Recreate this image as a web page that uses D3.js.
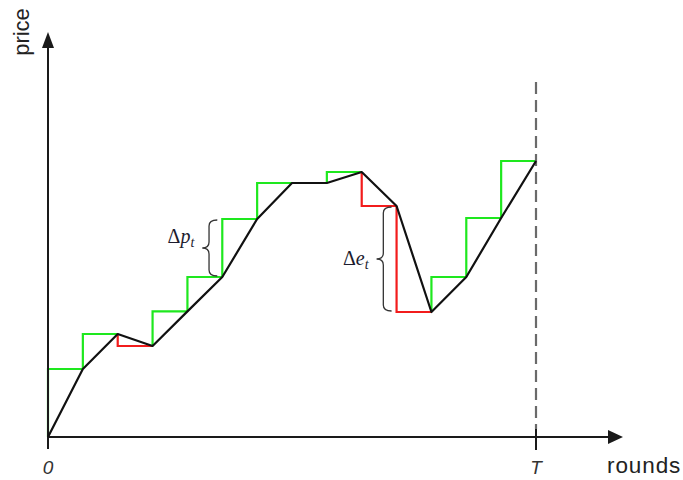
<!DOCTYPE html>
<html>
<head>
<meta charset="utf-8">
<script src="https://cdn.jsdelivr.net/npm/d3@7"></script>
<style>
  html, body { margin: 0; padding: 0; background: #fff; }
  svg { display: block; }
</style>
</head>
<body>
<svg id="chart" width="683" height="480"></svg>
<script>
// Price path over rounds 0..T
const rounds = [0, 1, 2, 3, 4, 5, 6, 7, 8, 9, 10, 11, 12, 13, 14];
const prices = [0, 17, 25.75, 22.75, 31.4, 40, 54.5, 63.5, 63.5, 66.25, 57.75, 31.25, 40, 54.75, 69];
const xTickLabels = ["0", "T"];
const xTickRounds = [0, 14];
// Annotated steps: round at which the step starts, and its label
const braceRounds = [5, 10];
const braceLabels = [["\u0394", "p", "t"], ["\u0394", "e", "t"]];

const svg = d3.select("#chart");
const x = d3.scaleLinear().domain([0, 14]).range([48, 536]);
const y = d3.scaleLinear().domain([0, 100]).range([437, 37]);

const green = "#1ee81e", red = "#f21c1c", axisCol = "#1a1a1a";

// Step segments: up moves in green, down moves in red
const step = d3.line().x(d => x(d[0])).y(d => y(d[1])).curve(d3.curveStepBefore);
const segs = [];
for (let i = 1; i < rounds.length; i++) {
  const dp = prices[i] - prices[i - 1];
  if (dp === 0) continue;
  segs.push({pts: [[rounds[i - 1], prices[i - 1]], [rounds[i], prices[i]]], up: dp > 0});
}
svg.append("g").selectAll("path").data(segs).join("path")
  .attr("d", d => step(d.pts))
  .attr("fill", "none")
  .attr("stroke", d => d.up ? green : red)
  .attr("stroke-width", 2.2);

// Dashed horizon at T
svg.append("line")
  .attr("x1", x(14)).attr("x2", x(14))
  .attr("y1", 82).attr("y2", 429)
  .attr("stroke", "#6a6a6a").attr("stroke-width", 2.2)
  .attr("stroke-dasharray", "12,6");

// Axes with arrowheads
svg.append("line").attr("x1", x(0)).attr("x2", 610).attr("y1", y(0)).attr("y2", y(0))
  .attr("stroke", axisCol).attr("stroke-width", 2);
svg.append("line").attr("x1", x(0)).attr("x2", x(0)).attr("y1", 449).attr("y2", 45)
  .attr("stroke", axisCol).attr("stroke-width", 2);
svg.append("path").attr("d", `M623,${y(0)} L608,${y(0) - 7} L608,${y(0) + 7} Z`).attr("fill", axisCol);
svg.append("path").attr("d", `M${x(0)},32 L${x(0) - 6},48 L${x(0) + 6},48 Z`).attr("fill", axisCol);

// Tick at T
svg.append("line").attr("x1", x(14)).attr("x2", x(14)).attr("y1", 429).attr("y2", 450)
  .attr("stroke", axisCol).attr("stroke-width", 2);

// Tick labels
svg.append("g").selectAll("text").data(xTickRounds).join("text")
  .attr("x", d => x(d)).attr("y", 474)
  .attr("text-anchor", "middle")
  .attr("font-family", "Liberation Sans, Arial, sans-serif")
  .attr("font-style", "italic")
  .attr("font-size", 19)
  .attr("fill", "#333")
  .text((d, i) => xTickLabels[i]);

// Axis titles
svg.append("text").attr("x", 607).attr("y", 473)
  .attr("font-family", "Liberation Sans, Arial, sans-serif")
  .attr("font-size", 22.5).attr("letter-spacing", 0.9).attr("fill", "#222").text("rounds");
svg.append("text").attr("transform", "translate(29,32) rotate(-90)")
  .attr("text-anchor", "middle")
  .attr("font-family", "Liberation Sans, Arial, sans-serif")
  .attr("font-size", 22).attr("fill", "#222").text("price");

// Price path
const line = d3.line().x((d, i) => x(rounds[i])).y(d => y(d));
svg.append("path").attr("d", line(prices))
  .attr("fill", "none").attr("stroke", "#111").attr("stroke-width", 2.2)
  .attr("stroke-linejoin", "round");

// Curly braces marking a single step's size
function brace(xr, y0, y1, w) {
  const xm = xr - w * 0.55, xt = xr - w, ym = (y0 + y1) / 2, r = Math.min(6, (y1 - y0) / 6);
  return `M${xr},${y0} Q${xm},${y0} ${xm},${y0 + r} L${xm},${ym - r} Q${xm},${ym} ${xt},${ym}` +
         ` Q${xm},${ym} ${xm},${ym + r} L${xm},${y1 - r} Q${xm},${y1} ${xr},${y1}`;
}
const labelDy = [-5, 6];
braceRounds.forEach((r, k) => {
  const xr = x(r) - 5, w = 15;
  const ya = y(Math.max(prices[r], prices[r + 1])), yb = y(Math.min(prices[r], prices[r + 1]));
  svg.append("path").attr("d", brace(xr, ya + 1, yb - 1, w))
    .attr("fill", "none").attr("stroke", "#333").attr("stroke-width", 1.3);
  const t = svg.append("text")
    .attr("x", xr - w - 8).attr("y", (ya + yb) / 2 + labelDy[k])
    .attr("text-anchor", "end")
    .attr("font-family", "Liberation Serif, Times New Roman, serif")
    .attr("font-size", 20).attr("fill", "#1c1c2e");
  t.append("tspan").text(braceLabels[k][0]);
  t.append("tspan").attr("font-style", "italic").text(braceLabels[k][1]);
  t.append("tspan").attr("font-style", "italic").attr("font-size", 14).attr("dy", 4).text(braceLabels[k][2]);
});
</script>
</body>
</html>
